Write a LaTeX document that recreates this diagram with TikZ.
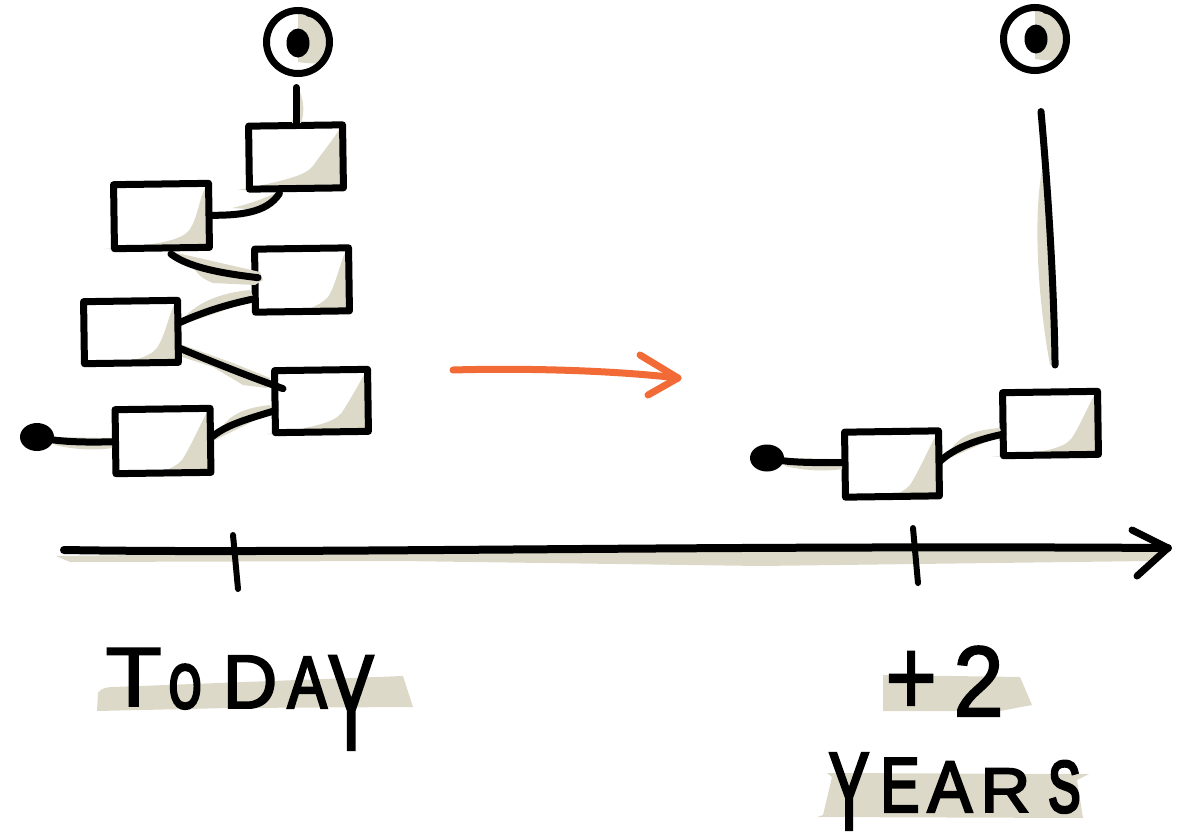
\documentclass[tikz,border=0pt]{standalone}
\usepackage{fontspec}
\setmainfont{Liberation Sans}
\usetikzlibrary{calc,shapes.geometric}
\pgfdeclarelayer{bg}
\pgfsetlayers{bg,main}
\definecolor{beige}{HTML}{DDD9C9}
\definecolor{orangeink}{HTML}{F26A35}
\newcommand\HL[6]{\rlap{\hspace{#1pt}\raisebox{#2pt}{\fontspec[FakeStretch=#3,FakeBold=#4]{Liberation Sans}\fontsize{#5}{#5}\selectfont #6}}}
\newcommand\boxshade[4]{%
  \begin{pgfonlayer}{bg}
  \begin{scope}[shift={(#1.center)}]
  \fill[beige] (44,-29) .. controls (38,-18) and ($(#2,#3)+(8,-12)$) .. (#2,#3)
    .. controls ($(#2,#3)+(-8,10)$) and ($(#2,#3)+(-30,15)$) .. (#4,33) -- (47,33) -- (47,-29) -- cycle;
  \end{scope}
  \end{pgfonlayer}}
\tikzset{
  x=1pt,y=-1pt,
  sbox/.style={draw=black,line width=7pt,inner sep=0pt,outer sep=0pt,minimum width=94pt,minimum height=63pt,line join=round},
  ink/.style={draw=black,line width=7pt,line cap=round,line join=round},
  blob/.style={ellipse,fill=black,inner sep=0pt,outer sep=0pt},
  eyeball/.style={circle,draw=black,line width=7pt,inner sep=0pt,outer sep=0pt,minimum size=63pt},
  word/.style={inner sep=0pt,outer sep=0pt,anchor=base west},
  wash/.style={fill=beige,draw=none}
}
\begin{document}
\begin{tikzpicture}
\useasboundingbox (0,0) rectangle (1181,836);
% text washes and axis wash
\fill[wash] (97,711) -- (98,693) .. controls (100,688) and (108,687) .. (113,687) -- (403,676) -- (413,707) -- (230,708) -- cycle;
\fill[wash] (883,675) -- (1020,677) -- (1032,705) -- (1000,711) -- (883,711) -- cycle;
\fill[wash] (827,773) -- (1089,774) -- (1077,780) -- (1083,818) -- (817,817) -- (823,815) -- (832,777) -- cycle;
\fill[wash] (56,556) -- (300,553) -- (800,546) -- (880,547) -- (1165,551) -- (1150,561) -- (760,566) -- (400,561) -- (70,562) -- cycle;
% boxes
\node[sbox,rotate=0.8] (b1) at (296,157) {};
\node[sbox,rotate=0.8,minimum width=95pt,minimum height=64pt] (b2) at (161.5,216) {};
\node[sbox,rotate=0.8] (b3) at (302,280) {};
\node[sbox,rotate=0.8,minimum height=62pt] (b4) at (131,332) {};
\node[sbox,rotate=0.8,minimum width=93pt,minimum height=62pt] (b5) at (321.5,401) {};
\node[sbox,rotate=0.8,minimum width=95pt,minimum height=64pt] (b6) at (163,441) {};
\node[sbox,rotate=0.8,minimum height=65pt] (b7) at (892,464) {};
\node[sbox,rotate=0.8,minimum width=95pt] (b8) at (1050.5,423.5) {};
\boxshade{b1}{17}{9}{-58}
\boxshade{b2}{28}{14}{-58}
\boxshade{b3}{26}{17}{-5}
\boxshade{b4}{26}{16}{-28}
\boxshade{b5}{20}{12}{-55}
\boxshade{b6}{19}{19}{-16}
\boxshade{b7}{18}{21}{-15}
\boxshade{b8}{21}{15}{-58}
% eyes
\fill[wash] (298,14) -- (298,62) .. controls (310,64) and (322,64) .. (326,60) .. controls (336,48) and (334,30) .. (318,16) -- cycle;
\fill[wash] (1035,11) -- (1035,59) .. controls (1047,61) and (1059,61) .. (1063,57) .. controls (1073,45) and (1071,27) .. (1055,13) -- cycle;
\node[eyeball] (eye1) at (298,42) {};
\node[blob,minimum width=23pt,minimum height=29pt] (pupil1) at (298,43) {};
\node[eyeball] (eye2) at (1035,39) {};
\node[blob,minimum width=23pt,minimum height=29pt] (pupil2) at (1036,39) {};
\draw[ink,line width=6pt] ($(eye1.north)+(10,3)$) -- ++(8,2);
\draw[ink,line width=6pt] ($(eye2.north)+(10,3)$) -- ++(8,2);
% start dots
\node[blob,minimum width=34pt,minimum height=28pt] (dot1) at (37,437) {};
\node[blob,minimum width=34pt,minimum height=27pt] (dot2) at (767,458) {};
% connector washes
\fill[wash] (232,208) .. controls (250,204) and (265,198) .. (278,192) -- (262,210) -- cycle;
\fill[wash] (173,252) -- (260,272) -- (263,280) -- (255,285) -- (213,283) .. controls (205,280) and (198,275) .. (195,270) -- cycle;
\fill[wash] (185,317) .. controls (195,305) and (217,293) .. (250,290) -- (255,300) -- (190,322) -- cycle;
\fill[wash] (183,345) -- (233,363) -- (270,378) -- (267,388) -- (243,385) -- (213,367) -- (182,357) -- cycle;
\fill[wash] (222,427) .. controls (228,418) and (240,408) .. (270,405) -- (272,412) -- (215,440) -- cycle;
\fill[wash] (55,445) .. controls (70,449) and (95,451) .. (112,448) -- (112,438) -- (53,437) -- cycle;
\fill[wash] (785,466) .. controls (800,470) and (825,472) .. (842,469) -- (842,459) -- (783,458) -- cycle;
\fill[wash] (952,448) .. controls (958,439) and (970,430) .. (1000,428) -- (1002,435) -- (945,460) -- cycle;
\fill[wash] (298,88) .. controls (302,95) and (306,110) .. (301,123) -- (292,123) -- cycle;
\fill[wash] (1042,170) .. controls (1033,220) and (1038,300) .. (1050,365) -- (1056,365) -- (1050,200) -- cycle;
% connectors
\draw[ink] ($(b1.south)+(-17,5)$) .. controls ($(b1.south)+(-30,25)$) and ($(b2.east)+(30,0)$) .. (b2.east);
\draw[ink] ($(b2.south)+(9,6)$) .. controls ($(b2.south)+(25,18)$) and ($(b3.west)+(-40,-8)$) .. ($(b3.west)+(3,-3)$);
\draw[ink] ($(b4.east)+(0,-8)$) .. controls ($(b4.east)+(22,-18)$) and ($(b3.west)+(-30,24)$) .. ($(b3.west)+(0,18)$);
\draw[ink] ($(b4.east)+(2,17)$) .. controls ($(b4.east)+(45,35)$) and ($(b5.west)+(-25,-25)$) .. ($(b5.west)+(8,-13)$);
\draw[ink] ($(b6.east)+(1,-3)$) .. controls ($(b6.east)+(15,-15)$) and ($(b5.west)+(-30,18)$) .. ($(b5.west)+(0,9)$);
\draw[ink] (dot1.center) .. controls ($(dot1.center)+(20,5)$) and ($(b6.west)+(-30,1)$) .. (b6.west);
\draw[ink] (dot2.center) .. controls ($(dot2.center)+(20,5)$) and ($(b7.west)+(-30,-2)$) .. ($(b7.west)+(0,-2)$);
\draw[ink] ($(b7.east)+(1,-2)$) .. controls ($(b7.east)+(15,-15)$) and ($(b8.west)+(-28,16)$) .. ($(b8.west)+(0,10)$);
\draw[ink] ($(eye1.south)+(-2,14)$) -- (b1.north -| {$(eye1.south)+(-2,14)$});
\draw[ink] ($(eye2.south)+(6,41)$) .. controls ($(eye2.south)+(14,130)$) and ($(b8.north)+(4,-100)$) .. ($(b8.north)+(5,-27)$);
% time axis
\coordinate (axL) at (64,550);
\coordinate (axR) at (1168,548);
\coordinate (headU) at (1132,530);
\coordinate (headD) at (1137,576);
\draw[ink,line width=8pt] (axL) .. controls (300,554) and (700,545) .. (axR);
\draw[ink] (headU) -- (axR) -- (headD);
\coordinate (tickAU) at (233,535);
\coordinate (tickAD) at (238,589);
\coordinate (tickBU) at (913,528);
\coordinate (tickBD) at (918,583);
\draw[ink,line width=6pt] (tickAU) -- (tickAD);
\draw[ink,line width=6pt] (tickBU) -- (tickBD);
% orange arrow
\coordinate (oL) at (453,370);
\coordinate (oR) at (678,378);
\coordinate (oU) at (640,355);
\coordinate (oD) at (648,395);
\draw[draw=orangeink,line width=7pt,line cap=round,line join=round] (oL) .. controls (520,368) and (610,370) .. (oR);
\draw[draw=orangeink,line width=7pt,line cap=round,line join=round] (oU) -- (oR) -- (oD);
% labels
\node[word] (today) at (105,706) {\HL{0}{0}{1.1}{2}{84}{T}\HL{64}{-2}{0.65}{5}{62}{O}\HL{117}{-2}{1}{2.5}{76}{D}\HL{182}{-2}{0.8}{3}{74}{A}\HL{222}{-44}{0.52}{1.5}{137}{Y}};
\node[word] (plus2) at (885,712) {\HL{0}{-3}{0.8}{1.5}{110}{+}\HL{68}{-4}{0.9}{2}{100}{2}};
\node[word] (years) at (828,812) {\HL{0}{-18}{0.55}{2}{112}{Y}\HL{52}{0}{0.75}{3}{78}{E}\HL{99}{0}{0.92}{3}{73}{A}\HL{152}{0}{1.1}{3}{63}{R}\HL{220}{0}{0.65}{4}{73}{S}};
\end{tikzpicture}
\end{document}
